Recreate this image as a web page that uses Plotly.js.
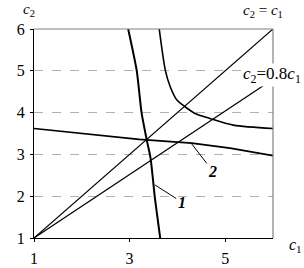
<!DOCTYPE html>
<html>
<head>
<meta charset="utf-8">
<script src="https://cdn.plot.ly/plotly-3.0.1.min.js"></script>
<style>html,body{margin:0;padding:0;background:#fff;}#chart{width:304px;height:268px;}</style>
</head>
<body>
<div id="chart"></div>
<script>
// c2 = c1
const diagC1 = [1, 6];
const diagC2 = [1, 6];
// c2 = 0.8 c1 (drawn line)
const rayC1 = [1, 6];
const rayC2 = [1, 4.8];
// curve 1 (steep)
const curve1C1 = [2.97, 3.15, 3.25, 3.36, 3.44, 3.53, 3.64, 3.66];
const curve1C2 = [6, 5, 4, 3.34, 2.9, 1.95, 1, 0.8];
// curve 2 (shallow)
const curve2C1 = [1, 3.2, 4.3, 5.1, 6];
const curve2C2 = [3.62, 3.36, 3.27, 3.15, 2.97];
// hyperbola-like curve
const hypC1 = [3.62, 3.75, 3.85, 3.99, 4.16, 4.37, 4.68, 5.17, 6];
const hypC2 = [6, 5, 4.62, 4.30, 4.14, 3.98, 3.86, 3.70, 3.62];
// ticks
const xTicks = [1, 3, 5];
const xTickText = ['1', '3', '5'];
const yTicks = [1, 2, 3, 4, 5, 6];
const yTickText = ['1', '2', '3', '4', '5', '6'];

const serif = 'Liberation Serif, Times New Roman, serif';
const ln = (w) => ({color: '#000', width: w});

const traces = [
  {x: diagC1, y: diagC2, mode: 'lines', line: ln(1.2), hoverinfo: 'skip'},
  {x: rayC1, y: rayC2, mode: 'lines', line: ln(1.2), hoverinfo: 'skip'},
  {x: curve1C1, y: curve1C2, mode: 'lines', line: Object.assign(ln(2), {shape: 'spline', smoothing: 0.6}), hoverinfo: 'skip'},
  {x: curve2C1, y: curve2C2, mode: 'lines', line: ln(1.7), hoverinfo: 'skip'},
  {x: hypC1, y: hypC2, mode: 'lines', line: Object.assign(ln(1.6), {shape: 'spline', smoothing: 0.8}), hoverinfo: 'skip'}
];

const layout = {
  width: 304, height: 268,
  margin: {l: 34, r: 31, t: 29, b: 30},
  paper_bgcolor: '#fff', plot_bgcolor: '#fff',
  showlegend: false,
  font: {family: serif, size: 15, color: '#000'},
  xaxis: {
    range: [1, 6], tickvals: xTicks, ticktext: xTickText,
    showgrid: false, zeroline: false,
    showline: true, linecolor: '#000', linewidth: 1,
    ticks: 'outside', ticklen: 3, tickcolor: '#000',
    ticklabelstandoff: 3,
    tickfont: {family: serif, size: 16, color: '#000'}
  },
  yaxis: {
    range: [1, 6], tickvals: yTicks, ticktext: yTickText,
    showgrid: true, gridcolor: '#b0b0b0', griddash: 'dash', gridwidth: 1,
    zeroline: false,
    showline: true, linecolor: '#000', linewidth: 1,
    ticks: 'outside', ticklen: 3, tickcolor: '#000',
    ticklabelstandoff: 2,
    tickfont: {family: serif, size: 16, color: '#000'}
  },
  shapes: [
    {type: 'line', xref: 'paper', yref: 'paper', x0: 0, x1: 1, y0: 1, y1: 1, line: {color: '#808080', width: 1.2}, layer: 'above'},
    {type: 'line', xref: 'paper', yref: 'paper', x0: 1, x1: 1, y0: 0, y1: 1, line: {color: '#808080', width: 1.2}, layer: 'above'}
  ],
  annotations: [
    {x: -0.021, y: 1.09, xref: 'paper', yref: 'paper', xanchor: 'center', yanchor: 'middle', text: '<i>c</i><sub>2</sub>', showarrow: false, font: {family: serif, size: 15}},
    {x: 0.958, y: 1.085, xref: 'paper', yref: 'paper', xanchor: 'center', yanchor: 'middle', text: '<i>c</i><sub>2</sub> = <i>c</i><sub>1</sub>', showarrow: false, font: {family: serif, size: 15}},
    {x: 5.98, y: 4.9, xref: 'x', yref: 'y', xanchor: 'center', yanchor: 'middle', text: '<i>c</i><sub>2</sub>=0.8<i>c</i><sub>1</sub>', showarrow: false, bgcolor: '#fff', borderpad: 0, font: {family: serif, size: 17}},
    {x: 1.096, y: -0.035, xref: 'paper', yref: 'paper', xanchor: 'center', yanchor: 'middle', text: '<i>c</i><sub>1</sub>', showarrow: false, font: {family: serif, size: 16}},
    {x: 3.53, y: 2.27, xref: 'x', yref: 'y', ax: 4.09, ay: 1.86, axref: 'x', ayref: 'y', text: '<b><i>1</i></b>', showarrow: true, arrowhead: 0, arrowwidth: 1, arrowcolor: '#000', font: {family: serif, size: 16}},
    {x: 4.30, y: 3.25, xref: 'x', yref: 'y', ax: 4.74, ay: 2.60, axref: 'x', ayref: 'y', text: '<b><i>2</i></b>', showarrow: true, arrowhead: 0, arrowwidth: 1, arrowcolor: '#000', font: {family: serif, size: 16}}
  ]
};

Plotly.newPlot('chart', traces, layout, {staticPlot: true, displayModeBar: false});
</script>
</body>
</html>
